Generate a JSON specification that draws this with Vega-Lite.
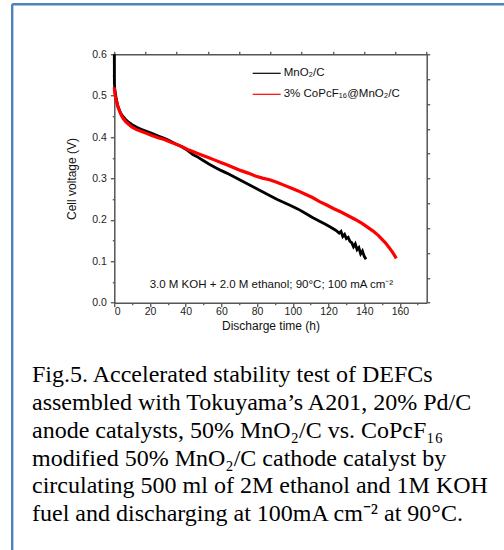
{
  "$schema": "https://vega.github.io/schema/vega-lite/v6.json",
  "width": 312.4,
  "height": 248.4,
  "autosize": {"type": "none"},
  "padding": {"left": 114.3, "top": 54.3, "right": 77.3, "bottom": 247.3},
  "background": "white",
  "config": {
    "view": {"stroke": null},
    "font": "Liberation Sans",
    "axis": {"grid": false, "domainColor": "#555", "domainWidth": 1.5, "tickColor": "#222", "tickWidth": 1, "labelColor": "#222", "labelFont": "Liberation Sans", "labelFontSize": 10.5, "titleFont": "Liberation Sans", "titleFontSize": 12, "titleFontWeight": "normal", "titleColor": "#111"}
  },
  "title": {
    "text": [
      "Fig.5. Accelerated stability test of DEFCs",
      "assembled with Tokuyama’s A201, 20% Pd/C",
      "anode catalysts, 50% MnO₂/C vs. CoPcF₁₆",
      "modified 50% MnO₂/C cathode catalyst by",
      "circulating 500 ml of 2M ethanol and 1M KOH",
      "fuel and discharging at 100mA cm⁻² at 90°C."
    ],
    "orient": "bottom",
    "anchor": "start",
    "frame": "group",
    "dx": -82.3,
    "offset": -189,
    "font": "Liberation Serif",
    "fontSize": 24,
    "fontWeight": "normal",
    "lineHeight": 27.8,
    "color": "#000"
  },
  "datasets": {
    "curves": [
      {"series": "MnO₂/C", "t": 0, "v": 0.6},
      {"series": "MnO₂/C", "t": 0.05, "v": 0.53},
      {"series": "MnO₂/C", "t": 0.3, "v": 0.515},
      {"series": "MnO₂/C", "t": 1, "v": 0.495},
      {"series": "MnO₂/C", "t": 2, "v": 0.475},
      {"series": "MnO₂/C", "t": 3, "v": 0.463},
      {"series": "MnO₂/C", "t": 4, "v": 0.455},
      {"series": "MnO₂/C", "t": 5, "v": 0.449},
      {"series": "MnO₂/C", "t": 6.5, "v": 0.442},
      {"series": "MnO₂/C", "t": 8, "v": 0.436},
      {"series": "MnO₂/C", "t": 10, "v": 0.43},
      {"series": "MnO₂/C", "t": 12.5, "v": 0.424},
      {"series": "MnO₂/C", "t": 15, "v": 0.419},
      {"series": "MnO₂/C", "t": 18, "v": 0.414},
      {"series": "MnO₂/C", "t": 21, "v": 0.409},
      {"series": "MnO₂/C", "t": 25, "v": 0.402},
      {"series": "MnO₂/C", "t": 28, "v": 0.397},
      {"series": "MnO₂/C", "t": 31, "v": 0.391},
      {"series": "MnO₂/C", "t": 35, "v": 0.382},
      {"series": "MnO₂/C", "t": 38, "v": 0.376},
      {"series": "MnO₂/C", "t": 41, "v": 0.368},
      {"series": "MnO₂/C", "t": 44, "v": 0.358},
      {"series": "MnO₂/C", "t": 47, "v": 0.351},
      {"series": "MnO₂/C", "t": 50, "v": 0.343},
      {"series": "MnO₂/C", "t": 53, "v": 0.335},
      {"series": "MnO₂/C", "t": 56, "v": 0.328},
      {"series": "MnO₂/C", "t": 60, "v": 0.319},
      {"series": "MnO₂/C", "t": 63, "v": 0.313},
      {"series": "MnO₂/C", "t": 67, "v": 0.304},
      {"series": "MnO₂/C", "t": 71, "v": 0.295},
      {"series": "MnO₂/C", "t": 75, "v": 0.286},
      {"series": "MnO₂/C", "t": 79, "v": 0.277},
      {"series": "MnO₂/C", "t": 83, "v": 0.268},
      {"series": "MnO₂/C", "t": 87, "v": 0.259},
      {"series": "MnO₂/C", "t": 91, "v": 0.25},
      {"series": "MnO₂/C", "t": 95, "v": 0.242},
      {"series": "MnO₂/C", "t": 99, "v": 0.234},
      {"series": "MnO₂/C", "t": 103, "v": 0.226},
      {"series": "MnO₂/C", "t": 107, "v": 0.216},
      {"series": "MnO₂/C", "t": 111, "v": 0.206},
      {"series": "MnO₂/C", "t": 115, "v": 0.197},
      {"series": "MnO₂/C", "t": 118, "v": 0.19},
      {"series": "MnO₂/C", "t": 121, "v": 0.183},
      {"series": "MnO₂/C", "t": 124, "v": 0.175},
      {"series": "MnO₂/C", "t": 126, "v": 0.168},
      {"series": "MnO₂/C", "t": 127, "v": 0.172},
      {"series": "MnO₂/C", "t": 128, "v": 0.16},
      {"series": "MnO₂/C", "t": 129, "v": 0.165},
      {"series": "MnO₂/C", "t": 130, "v": 0.155},
      {"series": "MnO₂/C", "t": 131, "v": 0.158},
      {"series": "MnO₂/C", "t": 132, "v": 0.148},
      {"series": "MnO₂/C", "t": 133, "v": 0.145},
      {"series": "MnO₂/C", "t": 134, "v": 0.135},
      {"series": "MnO₂/C", "t": 135, "v": 0.142},
      {"series": "MnO₂/C", "t": 136, "v": 0.128},
      {"series": "MnO₂/C", "t": 137, "v": 0.133},
      {"series": "MnO₂/C", "t": 138, "v": 0.118},
      {"series": "MnO₂/C", "t": 139, "v": 0.125},
      {"series": "MnO₂/C", "t": 140, "v": 0.112},
      {"series": "MnO₂/C", "t": 141, "v": 0.105},
      {"series": "3% CoPcF₁₆@MnO₂/C", "t": 0, "v": 0.52},
      {"series": "3% CoPcF₁₆@MnO₂/C", "t": 0.3, "v": 0.505},
      {"series": "3% CoPcF₁₆@MnO₂/C", "t": 1, "v": 0.49},
      {"series": "3% CoPcF₁₆@MnO₂/C", "t": 2, "v": 0.473},
      {"series": "3% CoPcF₁₆@MnO₂/C", "t": 3, "v": 0.462},
      {"series": "3% CoPcF₁₆@MnO₂/C", "t": 4, "v": 0.452},
      {"series": "3% CoPcF₁₆@MnO₂/C", "t": 5, "v": 0.445},
      {"series": "3% CoPcF₁₆@MnO₂/C", "t": 6.5, "v": 0.437},
      {"series": "3% CoPcF₁₆@MnO₂/C", "t": 8, "v": 0.431},
      {"series": "3% CoPcF₁₆@MnO₂/C", "t": 10, "v": 0.424},
      {"series": "3% CoPcF₁₆@MnO₂/C", "t": 12.5, "v": 0.418},
      {"series": "3% CoPcF₁₆@MnO₂/C", "t": 15, "v": 0.414},
      {"series": "3% CoPcF₁₆@MnO₂/C", "t": 18, "v": 0.409},
      {"series": "3% CoPcF₁₆@MnO₂/C", "t": 21, "v": 0.404},
      {"series": "3% CoPcF₁₆@MnO₂/C", "t": 25, "v": 0.398},
      {"series": "3% CoPcF₁₆@MnO₂/C", "t": 28, "v": 0.394},
      {"series": "3% CoPcF₁₆@MnO₂/C", "t": 31, "v": 0.389},
      {"series": "3% CoPcF₁₆@MnO₂/C", "t": 35, "v": 0.382},
      {"series": "3% CoPcF₁₆@MnO₂/C", "t": 38, "v": 0.377},
      {"series": "3% CoPcF₁₆@MnO₂/C", "t": 41, "v": 0.37},
      {"series": "3% CoPcF₁₆@MnO₂/C", "t": 44, "v": 0.365},
      {"series": "3% CoPcF₁₆@MnO₂/C", "t": 47, "v": 0.36},
      {"series": "3% CoPcF₁₆@MnO₂/C", "t": 50, "v": 0.355},
      {"series": "3% CoPcF₁₆@MnO₂/C", "t": 53, "v": 0.35},
      {"series": "3% CoPcF₁₆@MnO₂/C", "t": 56, "v": 0.345},
      {"series": "3% CoPcF₁₆@MnO₂/C", "t": 60, "v": 0.338},
      {"series": "3% CoPcF₁₆@MnO₂/C", "t": 63, "v": 0.333},
      {"series": "3% CoPcF₁₆@MnO₂/C", "t": 67, "v": 0.326},
      {"series": "3% CoPcF₁₆@MnO₂/C", "t": 71, "v": 0.319},
      {"series": "3% CoPcF₁₆@MnO₂/C", "t": 75, "v": 0.313},
      {"series": "3% CoPcF₁₆@MnO₂/C", "t": 79, "v": 0.306},
      {"series": "3% CoPcF₁₆@MnO₂/C", "t": 83, "v": 0.301},
      {"series": "3% CoPcF₁₆@MnO₂/C", "t": 87, "v": 0.297},
      {"series": "3% CoPcF₁₆@MnO₂/C", "t": 91, "v": 0.291},
      {"series": "3% CoPcF₁₆@MnO₂/C", "t": 95, "v": 0.284},
      {"series": "3% CoPcF₁₆@MnO₂/C", "t": 99, "v": 0.277},
      {"series": "3% CoPcF₁₆@MnO₂/C", "t": 103, "v": 0.27},
      {"series": "3% CoPcF₁₆@MnO₂/C", "t": 107, "v": 0.262},
      {"series": "3% CoPcF₁₆@MnO₂/C", "t": 111, "v": 0.254},
      {"series": "3% CoPcF₁₆@MnO₂/C", "t": 115, "v": 0.244},
      {"series": "3% CoPcF₁₆@MnO₂/C", "t": 119, "v": 0.236},
      {"series": "3% CoPcF₁₆@MnO₂/C", "t": 123, "v": 0.227},
      {"series": "3% CoPcF₁₆@MnO₂/C", "t": 127, "v": 0.219},
      {"series": "3% CoPcF₁₆@MnO₂/C", "t": 131, "v": 0.21},
      {"series": "3% CoPcF₁₆@MnO₂/C", "t": 135, "v": 0.201},
      {"series": "3% CoPcF₁₆@MnO₂/C", "t": 139, "v": 0.191},
      {"series": "3% CoPcF₁₆@MnO₂/C", "t": 142, "v": 0.182},
      {"series": "3% CoPcF₁₆@MnO₂/C", "t": 145, "v": 0.173},
      {"series": "3% CoPcF₁₆@MnO₂/C", "t": 148, "v": 0.162},
      {"series": "3% CoPcF₁₆@MnO₂/C", "t": 150, "v": 0.153},
      {"series": "3% CoPcF₁₆@MnO₂/C", "t": 152, "v": 0.144},
      {"series": "3% CoPcF₁₆@MnO₂/C", "t": 154, "v": 0.133},
      {"series": "3% CoPcF₁₆@MnO₂/C", "t": 156, "v": 0.121},
      {"series": "3% CoPcF₁₆@MnO₂/C", "t": 158, "v": 0.107}
    ]
  },
  "layer": [
    {
      "data": {"name": "curves"},
      "transform": [{"filter": "datum.series === 'MnO₂/C'"}],
      "mark": {"type": "line", "strokeWidth": 2.8, "interpolate": "linear"},
      "encoding": {
        "x": {
          "field": "t", "type": "quantitative",
          "scale": {"domain": [0, 175], "nice": false, "zero": false},
          "axis": {
            "orient": "bottom",
            "title": "Discharge time (h)",
            "values": [0, 10, 20, 30, 40, 50, 60, 70, 80, 90, 100, 110, 120, 130, 140, 150, 160, 170],
            "labelExpr": "datum.value % 20 == 0 ? format(datum.value, 'd') : ''",
            "tickSize": {"condition": {"test": "datum.value % 20 == 0", "value": 4}, "value": 2},
            "labelPadding": 0,
            "titlePadding": 3
          }
        },
        "y": {
          "field": "v", "type": "quantitative",
          "scale": {"domain": [0, 0.6], "nice": false, "zero": false},
          "axis": {
            "orient": "left",
            "title": "Cell voltage (V)",
            "values": [0, 0.05, 0.1, 0.15, 0.2, 0.25, 0.3, 0.35, 0.4, 0.45, 0.5, 0.55, 0.6],
            "labelExpr": "round(datum.value * 100) % 10 == 0 ? format(datum.value, '.1f') : ''",
            "tickSize": {"condition": {"test": "round(datum.value * 100) % 10 == 0", "value": 4}, "value": 2},
            "labelPadding": 4,
            "titlePadding": 13
          }
        },
        "color": {
          "field": "series", "type": "nominal",
          "scale": {"domain": ["MnO₂/C", "3% CoPcF₁₆@MnO₂/C"], "range": ["#000000", "#ff0000"]},
          "legend": {
            "orient": "none", "legendX": 137.4, "legendY": 4,
            "title": null, "padding": 0,
            "symbolType": "stroke", "symbolSize": 784, "symbolStrokeWidth": 1.2,
            "labelFont": "Liberation Sans", "labelFontSize": 11.5, "labelColor": "#111",
            "labelOffset": 2, "rowPadding": -6
          }
        }
      }
    },
    {
      "data": {"name": "curves"},
      "transform": [{"filter": "datum.series !== 'MnO₂/C'"}],
      "mark": {"type": "line", "strokeWidth": 3.2, "interpolate": "linear"},
      "encoding": {
        "x": {"field": "t", "type": "quantitative", "axis": null},
        "y": {"field": "v", "type": "quantitative", "axis": null},
        "color": {"field": "series", "type": "nominal"}
      }
    },
    {
      "data": {"values": [{}]},
      "mark": {"type": "text", "font": "Liberation Sans", "fontSize": 11.5, "align": "center", "baseline": "middle", "color": "#111"},
      "encoding": {
        "x": {
          "datum": 88, "type": "quantitative",
          "axis": {"orient": "top", "title": null, "labels": false, "values": [0, 17.5, 35, 52.5, 70, 87.5, 105, 122.5, 140, 157.5, 175], "tickSize": 3}
        },
        "y": {
          "datum": 0.043, "type": "quantitative",
          "axis": {"orient": "right", "title": null, "labels": false, "values": [0, 0.06, 0.12, 0.18, 0.24, 0.3, 0.36, 0.42, 0.48, 0.54, 0.6], "tickSize": 3}
        },
        "text": {"value": "3.0 M KOH + 2.0 M ethanol; 90°C; 100 mA cm⁻²"}
      }
    },
    {
      "data": {"values": [{}]},
      "mark": {"type": "rule", "color": "#4f81bd", "strokeWidth": 2.4},
      "encoding": {
        "x": {"datum": -57.2, "type": "quantitative", "axis": null},
        "y": {"datum": 0.7208, "type": "quantitative", "axis": null},
        "y2": {"datum": -0.6}
      }
    },
    {
      "data": {"values": [{}]},
      "mark": {"type": "rule", "color": "#4f81bd", "strokeWidth": 2.4},
      "encoding": {
        "x": {"datum": -57.2, "type": "quantitative", "axis": null},
        "x2": {"datum": 300},
        "y": {"datum": 0.7208, "type": "quantitative", "axis": null}
      }
    }
  ],
  "resolve": {"axis": {"x": "independent", "y": "independent"}}
}
